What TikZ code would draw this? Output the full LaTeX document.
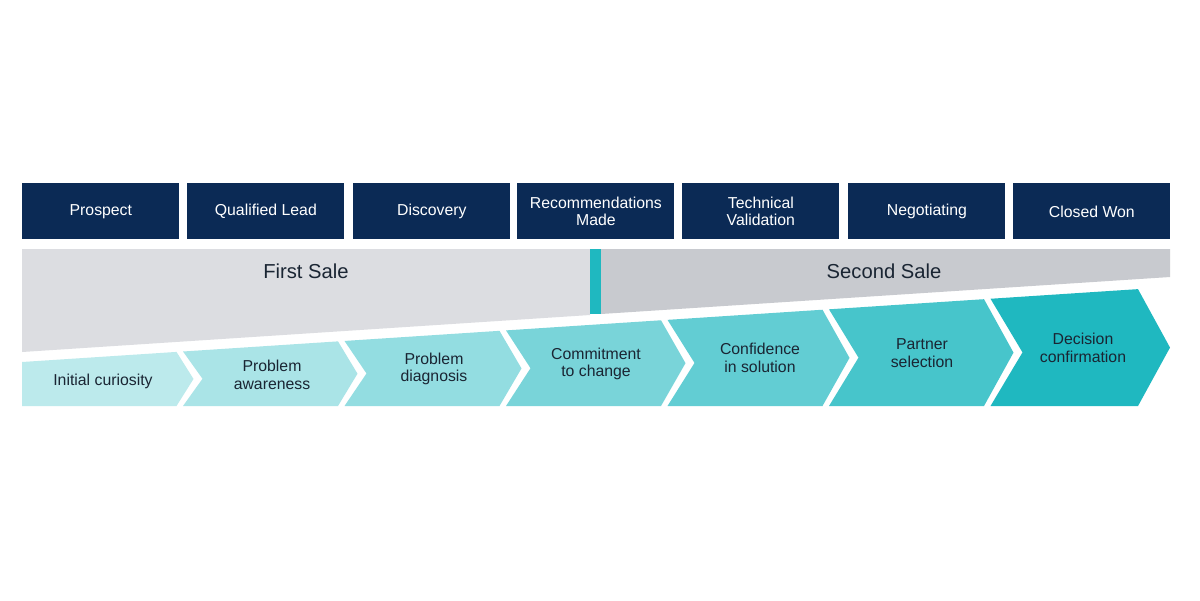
\documentclass[tikz,border=0pt]{standalone}
\usepackage{fontspec}
\setmainfont{Liberation Sans}
\begin{document}
\begin{tikzpicture}[x=0.02cm,y=-0.02cm,
  stage/.style={fill=navy,draw=none,text=white,font=\fontsize{9}{10}\selectfont,align=center,minimum width=157*0.02cm,minimum height=56*0.02cm,inner sep=0pt,anchor=north west},
  lab/.style={font=\fontsize{9}{10}\selectfont,text=txt,align=center},
  sale/.style={font=\fontsize{11.5}{13}\selectfont,text=txt}]
\definecolor{navy}{HTML}{0B2A55}
\definecolor{txt}{HTML}{1A2533}
\definecolor{g1}{HTML}{DCDDE1}
\definecolor{g2}{HTML}{C8CACF}
\definecolor{tl}{HTML}{1FB8C0}
\useasboundingbox (0,0) rectangle (1200,600);
\fill[white] (0,0) rectangle (1200,600);
% top stages
\foreach \x/\t/\n in {22/Prospect/s1,187/Qualified Lead/s2,353/Discovery/s3,517/Recommendations\\Made/s4,682/Technical\\Validation/s5,848/Negotiating/s6,1013/Closed Won/s7}
  \node[stage] (\n) at (\x,183) {\t};
% grey bands
\fill[g1] (22,249) -- (590,249) -- (590,315) -- (22,352) -- cycle;
\fill[g2] (601,249) -- (1170,249) -- (1170,277) -- (601,314) -- cycle;
\fill[tl] (590,249) rectangle (601,314);
\node[sale] (first) at (306,271) {First Sale};
\node[sale] (second) at (884,271) {Second Sale};
% chevrons
\foreach \i/\c in {0/30,1/38,2/48,3/60,4/70,5/82,6/100}{
  \pgfmathsetmacro{\L}{(\i==0)?22:(183+161.5*(\i-1))}
  \pgfmathsetmacro{\d}{17+2.5*\i}
  \pgfmathsetmacro{\R}{(\i<6)?(183+161.5*\i+19.5+2.5*\i-9):1170}
  \pgfmathsetmacro{\Rb}{\R-\d}
  \pgfmathsetmacro{\Ld}{\L+\d}
  \pgfmathsetmacro{\TL}{362-0.0653*(\L-22)}
  \pgfmathsetmacro{\TR}{362-0.0653*(\Rb-22)}
  \pgfmathsetmacro{\M}{(\TR+406)/2}
  \pgfmathsetmacro{\ML}{(\TL+406)/2}
  \ifnum\i=0
    \fill[tl!\c!white] (\L,\TL) -- (\Rb,\TR) -- (\R,\M) -- (\Rb,406) -- (\L,406) -- cycle;
  \else
    \fill[tl!\c!white] (\L,\TL) -- (\Rb,\TR) -- (\R,\M) -- (\Rb,406) -- (\L,406) -- (\Ld,\ML) -- cycle;
  \fi
}
\node[lab] (c1) at (103,381) {Initial curiosity};
\node[lab] (c2) at (272,375) {Problem\\awareness};
\node[lab] (c3) at (434,369) {Problem\\diagnosis};
\node[lab] (c4) at (596,364) {Commitment\\to change};
\node[lab] (c5) at (760,358) {Confidence\\in solution};
\node[lab] (c6) at (922,353) {Partner\\selection};
\node[lab] (c7) at (1083,348) {Decision\\confirmation};
\end{tikzpicture}
\end{document}
